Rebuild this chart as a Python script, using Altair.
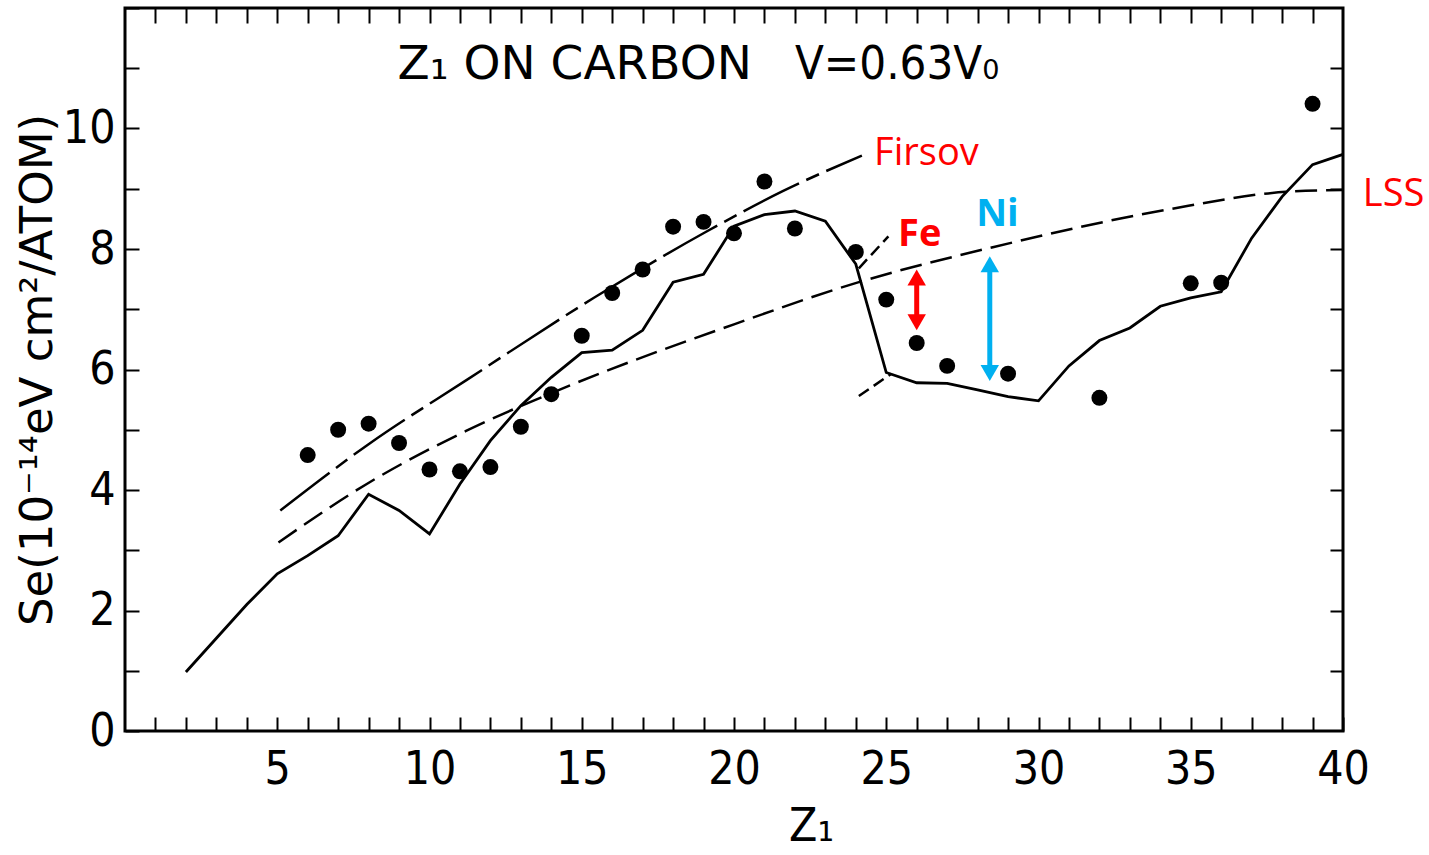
import altair as alt
import pandas as pd

# Measured electronic stopping of Z1 ions in carbon (filled circles)
z_meas = [6, 7, 8, 9, 10, 11, 12, 13, 14, 15, 16, 17, 18, 19, 20, 21, 22,
          24, 25, 26, 27, 29, 32, 35, 36, 39]
se_meas = [4.58, 5.00, 5.10, 4.78, 4.34, 4.31, 4.38, 5.05, 5.59, 6.56, 7.27,
           7.66, 8.37, 8.45, 8.26, 9.12, 8.34, 7.95, 7.16, 6.44, 6.06, 5.93,
           5.53, 7.43, 7.44, 10.41]

# Calculated curve (solid line), one vertex per Z1
z_calc = list(range(2, 41))
se_calc = [0.98, 1.54, 2.10, 2.61, 2.91, 3.24, 3.93, 3.66, 3.27, 4.10, 4.82,
           5.40, 5.87, 6.28, 6.32, 6.65, 7.45, 7.58, 8.38, 8.57, 8.63, 8.46,
           7.75, 5.95, 5.78, 5.77, 5.66, 5.55, 5.48, 6.06, 6.48, 6.69, 7.05,
           7.19, 7.29, 8.18, 8.87, 9.40, 9.57]

# Firsov estimate (long-short dashes)
z_firsov = [5.1, 8.0, 11.2, 15.4, 19.1, 21.6, 24.2]
se_firsov = [3.66, 4.76, 5.82, 7.19, 8.29, 8.96, 9.55]

# Short dashed branches near Z1 = 24-25
z_branch_hi = [24.1, 25.07]
se_branch_hi = [7.68, 8.21]
z_branch_lo = [24.1, 25.17]
se_branch_lo = [5.56, 5.93]

# LSS estimate (dashed)
z_lss = [5.04, 7.94, 11.2, 14.3, 20.0, 24.1, 28.5, 34.2, 38.15, 40.0]
se_lss = [3.13, 4.10, 4.98, 5.67, 6.75, 7.45, 8.03, 8.65, 8.95, 8.98]

# Gap arrows for Fe and Ni
arrow_z = [26.0, 28.4]
arrow_top = [7.66, 7.88]
arrow_bot = [6.65, 5.81]
arrow_color = ["#FF0000", "#00B0F0"]

FONT = "DejaVu Sans Condensed, DejaVu Sans, sans-serif"
WIDE_FONT = "DejaVu Sans, sans-serif"
ANNOT_FONT = "Open Sans, Lato, sans-serif"

meas = pd.DataFrame({"z": z_meas, "se": se_meas})
calc = pd.DataFrame({"z": z_calc, "se": se_calc})
firsov = pd.DataFrame({"z": z_firsov, "se": se_firsov})
branch = pd.DataFrame({
    "z": z_branch_hi + z_branch_lo,
    "se": se_branch_hi + se_branch_lo,
    "part": ["hi"] * len(z_branch_hi) + ["lo"] * len(z_branch_lo),
})
lss = pd.DataFrame({"z": z_lss, "se": se_lss})
arrows = pd.DataFrame({"z": arrow_z, "top": arrow_top, "bot": arrow_bot,
                       "color": arrow_color})

xs = alt.Scale(domain=[0, 40], nice=False, zero=False)
ys = alt.Scale(domain=[0, 12], nice=False, zero=False)

ax_bottom = alt.Axis(
    values=list(range(1, 41)),
    labelExpr="datum.value % 5 == 0 ? datum.label : ''",
    offset=-14, tickSize=14, tickWidth=2, tickColor="black", domain=False,
    grid=False, labelPadding=16, labelFont=FONT, labelFontSize=46,
    labelColor="black", labelOverlap=False, labelFlush=False,
    title="Z₁", titleFont=FONT, titleFontSize=46, titleFontWeight="normal",
    titleColor="black", titlePadding=12, titleX=686,
)
ax_left = alt.Axis(
    values=list(range(0, 13)),
    labelExpr="datum.value % 2 == 0 && datum.value < 12 ? datum.label : ''",
    offset=-14, tickSize=14, tickWidth=2, tickColor="black", domain=False,
    grid=False, labelPadding=10, labelFont=FONT, labelFontSize=46,
    labelColor="black", labelOverlap=False, labelFlush=False,
    labelBaseline="middle",
    title="Se(10⁻¹⁴eV cm²/ATOM)", titleFont=WIDE_FONT, titleFontSize=45,
    titleFontWeight="normal", titleColor="black", titlePadding=2,
)
ax_top = alt.Axis(
    orient="top", values=list(range(1, 40)), offset=-15, tickSize=15,
    tickWidth=2, tickColor="black", domain=False, grid=False, labels=False,
    title=None,
)
ax_right = alt.Axis(
    orient="right", values=list(range(1, 12)), offset=-13, tickSize=13,
    tickWidth=2, tickColor="black", domain=False, grid=False, labels=False,
    title=None,
)

points = alt.Chart(meas).mark_circle(size=255, color="black", opacity=1).encode(
    x=alt.X("z:Q", scale=xs, axis=ax_bottom),
    y=alt.Y("se:Q", scale=ys, axis=ax_left),
)

calc_line = alt.Chart(calc).mark_line(color="black", strokeWidth=2.8).encode(
    x=alt.X("z:Q", scale=xs, axis=ax_top),
    y=alt.Y("se:Q", scale=ys, axis=ax_right),
)

firsov_line = alt.Chart(firsov).mark_line(
    color="black", strokeWidth=2.5, strokeDash=[62, 8, 14, 8], interpolate="monotone"
).encode(
    x=alt.X("z:Q", scale=xs, axis=None),
    y=alt.Y("se:Q", scale=ys, axis=None),
)

branch_lines = alt.Chart(branch).mark_line(
    color="black", strokeWidth=2.5, strokeDash=[12, 6]
).encode(
    x=alt.X("z:Q", scale=xs, axis=None),
    y=alt.Y("se:Q", scale=ys, axis=None),
    detail="part:N",
)

lss_line = alt.Chart(lss).mark_line(
    color="black", strokeWidth=2.5, strokeDash=[22, 9], interpolate="monotone"
).encode(
    x=alt.X("z:Q", scale=xs, axis=None),
    y=alt.Y("se:Q", scale=ys, axis=None),
)

shafts = alt.Chart(arrows).mark_rule(strokeWidth=5, yOffset=10, y2Offset=-10).encode(
    x=alt.X("z:Q", scale=xs, axis=None),
    y=alt.Y("top:Q", scale=ys, axis=None),
    y2="bot:Q",
    color=alt.Color("color:N", scale=None),
)
heads_up = alt.Chart(arrows).mark_point(
    shape="triangle-up", filled=True, size=340, opacity=1, yOffset=8
).encode(
    x=alt.X("z:Q", scale=xs, axis=None),
    y=alt.Y("top:Q", scale=ys, axis=None),
    color=alt.Color("color:N", scale=None),
)
heads_down = alt.Chart(arrows).mark_point(
    shape="triangle-down", filled=True, size=340, opacity=1, yOffset=-8
).encode(
    x=alt.X("z:Q", scale=xs, axis=None),
    y=alt.Y("bot:Q", scale=ys, axis=None),
    color=alt.Color("color:N", scale=None),
)

# Panel heading, in two pieces, placed in data coordinates
head_left = pd.DataFrame({"z": [8.95], "se": [11.05], "t": ["Z₁ ON CARBON"]})
head_right = pd.DataFrame({"z": [22.0], "se": [11.05], "t": ["V=0.63V₀"]})
title_left = alt.Chart(head_left).mark_text(
    align="left", baseline="middle", font=WIDE_FONT, fontSize=47, color="black"
).encode(
    x=alt.X("z:Q", scale=xs, axis=None),
    y=alt.Y("se:Q", scale=ys, axis=None),
    text="t:N",
)
title_right = alt.Chart(head_right).mark_text(
    align="left", baseline="middle", font=FONT, fontSize=47, color="black"
).encode(
    x=alt.X("z:Q", scale=xs, axis=None),
    y=alt.Y("se:Q", scale=ys, axis=None),
    text="t:N",
)

red_df = pd.DataFrame({"z": [24.6, 40.65], "se": [9.57, 8.9],
                       "t": ["Firsov", "LSS"]})
red_text = alt.Chart(red_df).mark_text(
    align="left", baseline="middle", font=ANNOT_FONT, fontSize=38, color="#FF0000"
).encode(
    x=alt.X("z:Q", scale=xs, axis=None),
    y=alt.Y("se:Q", scale=ys, axis=None),
    text="t:N",
)

elem_df = pd.DataFrame({"z": [26.1, 28.65], "se": [8.24, 8.57],
                        "t": ["Fe", "Ni"], "c": ["#FF0000", "#00B0F0"]})
elem_text = alt.Chart(elem_df).mark_text(
    align="center", baseline="middle", font=ANNOT_FONT, fontSize=38,
    fontWeight="bold"
).encode(
    x=alt.X("z:Q", scale=xs, axis=None),
    y=alt.Y("se:Q", scale=ys, axis=None),
    text="t:N",
    color=alt.Color("c:N", scale=None),
)

chart = alt.layer(
    points, calc_line, firsov_line, branch_lines, lss_line,
    shafts, heads_up, heads_down, title_left, title_right, red_text, elem_text,
).resolve_axis(
    x="independent", y="independent"
).properties(
    width=1218, height=723,
    autosize=alt.AutoSizeParams(type="none"),
    padding={"left": 125, "top": 8, "right": 86, "bottom": 124},
    background="white",
).configure_view(
    stroke="black", strokeWidth=3
)

chart.save("out.html", embed_options={"renderer": "svg", "actions": False})
